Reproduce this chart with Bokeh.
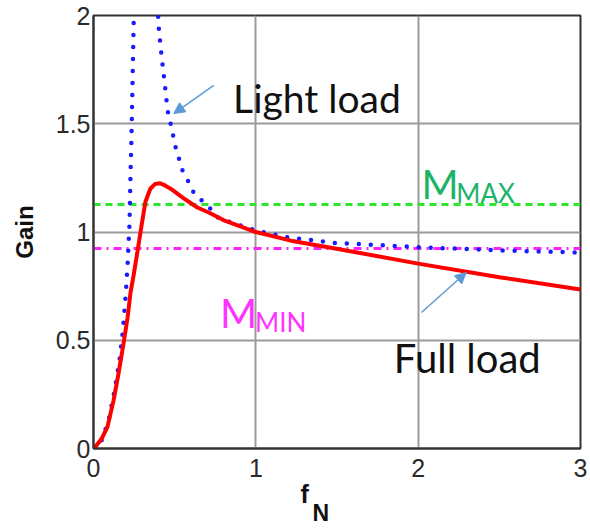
import math
from bokeh.plotting import figure
from bokeh.models import FixedTicker, Label, Arrow, NormalHead, Range1d, Title
from bokeh.embed import file_html
from bokeh.resources import INLINE

# ---- data ----
full_x = [0, 0.012, 0.05, 0.086, 0.123, 0.154, 0.185, 0.21, 0.228, 0.247, 0.272, 0.296,
          0.32, 0.35, 0.38, 0.41, 0.44, 0.475, 0.556, 0.64, 0.71, 0.80, 1.0, 1.216,
          1.48, 2.0, 2.51, 3.0]
full_y = [0, 0.008, 0.045, 0.10, 0.22, 0.346, 0.485, 0.605, 0.72, 0.80, 0.915, 1.03,
          1.14, 1.20, 1.222, 1.225, 1.215, 1.20, 1.155, 1.113, 1.09, 1.055, 1.0, 0.96,
          0.925, 0.854, 0.79, 0.734]

light_x = [0, 0.043, 0.093, 0.13, 0.16, 0.179, 0.198, 0.21, 0.222, 0.228, 0.234, 0.24,
           0.247, 0.25, float("nan"),
           0.395, 0.40, 0.414, 0.432, 0.457, 0.475, 0.506, 0.55, 0.58, 0.61, 0.66, 0.70,
           0.765, 0.846, 1.0, 1.2, 1.48, 2.0, 2.5, 3.0]
light_y = [0, 0.023, 0.13, 0.27, 0.406, 0.53, 0.706, 0.85, 1.04, 1.27, 1.44, 1.67,
           1.95, 2.05, float("nan"),
           2.05, 1.96, 1.85, 1.73, 1.56, 1.50, 1.39, 1.28, 1.24, 1.19, 1.15, 1.125,
           1.067, 1.044, 1.007, 0.975, 0.95, 0.93, 0.915, 0.905]

m_max = 1.127
m_min = 0.924

x_ticks = [0, 1, 2, 3]
x_tick_labels = ["0", "1", "2", "3"]
y_ticks = [0, 0.5, 1, 1.5, 2]
y_tick_labels = ["0", "0.5", "1", "1.5", "2"]

p = figure(width=588, height=527, output_backend="svg", toolbar_location=None,
           x_range=Range1d(0, 3), y_range=Range1d(0, 2))
p.min_border_left = 93
p.min_border_right = 8
p.min_border_top = 15
p.min_border_bottom = 79
p.background_fill_color = "white"
p.border_fill_color = "white"
p.outline_line_color = "#333333"
p.outline_line_width = 2

for ax, ticks, labels in ((p.xaxis, x_ticks, x_tick_labels), (p.yaxis, y_ticks, y_tick_labels)):
    ax.ticker = FixedTicker(ticks=ticks)
    ax.major_label_overrides = {t: l for t, l in zip(ticks, labels)}
    ax.major_tick_out = 0
    ax.major_tick_in = 0
    ax.minor_tick_out = 0
    ax.minor_tick_in = 0
    ax.axis_line_color = "#333333"
    ax.axis_line_width = 2
    ax.major_label_text_font = "Liberation Sans"
    ax.major_label_text_font_size = "25px"
    ax.major_label_text_color = "#2a2a2a"

p.yaxis.major_label_standoff = 3
p.xaxis.major_label_standoff = 10
p.yaxis.axis_label = "Gain"
p.yaxis.axis_label_text_font = "Liberation Sans"
p.yaxis.axis_label_text_font_style = "bold"
p.yaxis.axis_label_text_font_size = "24px"
p.yaxis.axis_label_text_color = "#111111"
p.yaxis.axis_label_standoff = 15

p.xgrid.ticker = FixedTicker(ticks=x_ticks)
p.ygrid.ticker = FixedTicker(ticks=y_ticks)
for g in (p.xgrid, p.ygrid):
    g.grid_line_color = "#9a9a9a"
    g.grid_line_width = 2
    g.grid_line_alpha = 1.0

# reference levels
p.line([0, 3], [m_max, m_max], line_color="#2ee62e", line_width=3, line_dash="7 5")
p.line([0, 3], [m_min, m_min], line_color="#ff22ff", line_width=3, line_dash="8 5 2 5")

# curves
p.line(light_x, light_y, line_color="#1a1aff", line_width=4.5, line_dash="0 12",
       line_cap="round")
p.line(full_x, full_y, line_color="#ff0000", line_width=4, line_join="round")

# annotations
def mk(x, y, s, size, color):
    return Label(x=x, y=y, text=s, text_font="Lato", text_font_size=size,
                 text_color=color, text_baseline="alphabetic", text_align="left")

p.add_layout(mk(0.86, 1.62, "Light load", "39px", "#111111"))
p.add_layout(mk(1.85, 0.416, "Full load", "40px", "#111111"))
p.add_layout(mk(2.02, 1.224, "M", "40px", "#1db36a"))
p.add_layout(mk(2.235, 1.178, "MAX", "26px", "#1db36a"))
p.add_layout(mk(0.78, 0.628, "M", "40px", "#ff33ff"))
p.add_layout(mk(0.995, 0.582, "MIN", "26px", "#ff33ff"))

# x axis label f_N as titles in the bottom panel (first one is a small spacer)
p.add_layout(Title(text=" ", standoff=1.5, text_font_size="2px"), "below")
p.add_layout(Title(text="f", align="left", offset=207, vertical_align="top",
                   standoff=-11, text_font="Liberation Sans", text_font_size="25px",
                   text_font_style="bold", text_color="#111111"), "below")
p.add_layout(Title(text="N", align="left", offset=219, vertical_align="top",
                   standoff=-10, text_font="Liberation Sans", text_font_size="23px",
                   text_font_style="bold", text_color="#111111"), "below")

for (x0, y0, x1, y1) in ((0.741, 1.677, 0.494, 1.547), (2.02, 0.628, 2.296, 0.813)):
    p.add_layout(Arrow(x_start=x0, y_start=y0, x_end=x1, y_end=y1,
                       line_color="#5b9bd5", line_width=1.5,
                       end=NormalHead(size=11, fill_color="#5b9bd5",
                                      line_color="#5b9bd5")))

open("out.html", "w").write(file_html(p, INLINE))
